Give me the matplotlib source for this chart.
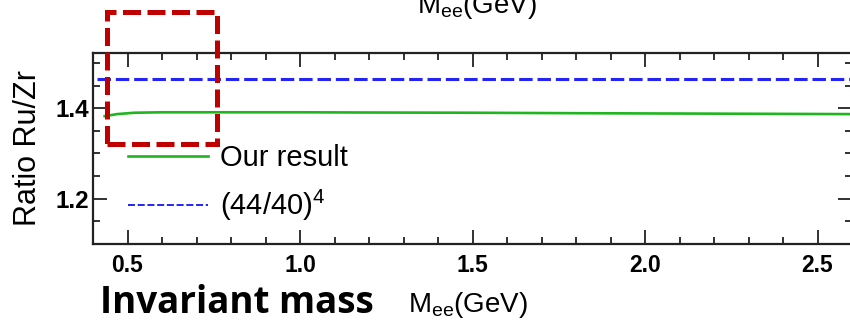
import matplotlib
matplotlib.use("Agg")
import matplotlib.pyplot as plt
from matplotlib.lines import Line2D
from matplotlib.patches import Rectangle
from matplotlib.ticker import MultipleLocator

plt.rcParams["font.family"] = ["Liberation Sans", "DejaVu Sans"]
plt.rcParams["mathtext.fontset"] = "custom"
plt.rcParams["mathtext.rm"] = "Liberation Sans"
plt.rcParams["mathtext.it"] = "Liberation Sans:italic"

# Ru/Zr ratio versus dielectron invariant mass
mass_gev = [0.43, 0.47, 0.52, 0.6, 0.8, 1.0, 1.2, 1.5, 1.8, 2.0, 2.2, 2.4, 2.6]
ratio_ours = [1.382, 1.387, 1.390, 1.391, 1.391, 1.391, 1.3905, 1.390, 1.389, 1.3885, 1.388, 1.3875, 1.387]
ratio_scaling = (44 / 40) ** 4

x_range = (0.4, 2.6)
y_range = (1.1, 1.522)
x_major = [0.5, 1.0, 1.5, 2.0, 2.5]
y_major = [1.2, 1.4]

W, H = 850, 326
fig = plt.figure(figsize=(W / 100, H / 100), dpi=100)
ax_l, ax_r, ax_t, ax_b = 93, 852, 53, 244
ax = fig.add_axes([ax_l / W, 1 - ax_b / H, (ax_r - ax_l) / W, (ax_b - ax_t) / H])

green = "#1fb51f"
blue = "#2424f5"

ax.plot(mass_gev, ratio_ours, color=green, lw=1.9, solid_capstyle="butt")
ax.axhline(ratio_scaling, xmin=0.005, color=blue, lw=2.2, dashes=(4.4, 1.6))

ax.set_xlim(*x_range)
ax.set_ylim(*y_range)
ax.set_xticks(x_major)
ax.set_xticklabels([f"{v:.1f}" for v in x_major])
ax.set_yticks(y_major)
ax.set_yticklabels([f"{v:.1f}" for v in y_major])
ax.xaxis.set_minor_locator(MultipleLocator(0.1))
ax.yaxis.set_minor_locator(MultipleLocator(0.05))

ax.tick_params(which="both", direction="in", top=True, right=True, width=1.3, color="#222222")
ax.tick_params(which="major", length=10)
ax.tick_params(which="minor", length=5)
ax.tick_params(axis="x", which="major", pad=7, labelsize=16.5)
ax.tick_params(axis="y", which="major", pad=3, labelsize=17.5)
for lab in ax.get_xticklabels() + ax.get_yticklabels():
    lab.set_fontweight("bold")
for sp in ax.spines.values():
    sp.set_linewidth(1.6)
    sp.set_color("#222222")

ax.set_ylabel("Ratio Ru/Zr", fontsize=22, labelpad=9)

handles = [
    Line2D([], [], color=green, lw=1.9),
    Line2D([], [], color=blue, lw=1.4, dashes=(3.6, 1.4)),
]
labels = ["Our result", "(44/40)$^4$"]
ax.legend(handles, labels, loc="upper left", bbox_to_anchor=(0.046, 0.525),
          frameon=False, fontsize=21, handlelength=2.75, handletextpad=0.4,
          labelspacing=0.56, borderpad=0, borderaxespad=0)

# highlighted low-mass window
ax.add_patch(Rectangle((0.442, 1.32), 0.318, 0.293, fill=False, edgecolor="#c00000",
                       lw=3.6, linestyle=(0, (3.6, 1.3)), clip_on=False, zorder=5))

# axis caption and title of the panel above
fig.text(100 / W, 1 - 313 / H, "Invariant mass", fontsize=26.5, fontweight="bold",
         family="Open Sans", va="baseline")
fig.text(408 / W, 1 - 312 / H, r"M$_\mathrm{ee}$(GeV)", fontsize=20, va="baseline")
fig.text(417 / W, 1 - 13 / H, r"M$_\mathrm{ee}$(GeV)", fontsize=20, va="baseline")

fig.savefig("out.png", dpi=100)
